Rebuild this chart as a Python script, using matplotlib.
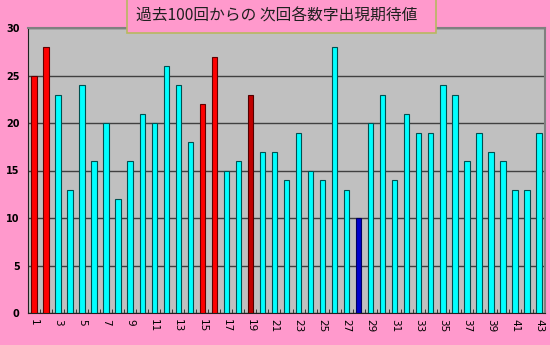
import numpy as np
import matplotlib.pyplot as plt
from matplotlib.patches import Rectangle

plt.rcParams['font.family'] = ['Noto Sans CJK JP', 'DejaVu Sans']

numbers = list(range(1, 44))
values = [25, 28, 23, 13, 24, 16, 20, 12, 16, 21,
          20, 26, 24, 18, 22, 27, 15, 16, 23, 17,
          17, 14, 19, 15, 14, 28, 13, 10, 20, 23,
          14, 21, 19, 19, 24, 23, 16, 19, 17, 16,
          13, 13, 19]
hot = [1, 2, 15, 16]
warm = [19]
cold = [28]
title = '過去100回からの 次回各数字出現期待値'

face = []
edge = []
for n in numbers:
    if n in hot:
        face.append('#ff0000'); edge.append('#600000')
    elif n in warm:
        face.append('#c00000'); edge.append('#500000')
    elif n in cold:
        face.append('#0000cc'); edge.append('#000060')
    else:
        face.append('#00ffff'); edge.append('#005050')

W, H = 550, 345
fig = plt.figure(figsize=(5.5, 3.45), dpi=100, facecolor='#ff99cc')
ax = fig.add_axes([28 / W, 32 / H, 517 / W, 285 / H])
ax.set_facecolor('#c0c0c0')

ax.bar(numbers, values, width=0.45, color=face, edgecolor=edge, linewidth=0.8, zorder=3)

ax.set_xlim(0.5, 43.5)
ax.set_ylim(0, 30)
ax.set_yticks(range(0, 31, 5))
ax.yaxis.grid(True, color='#404040', linewidth=1.0, zorder=1)
ax.set_axisbelow(True)

ax.set_xticks(numbers[::2])
ax.set_xticklabels([str(n) for n in numbers[::2]], rotation=-90, fontsize=7.5,
                   family='DejaVu Sans')
ax.tick_params(axis='x', length=0, pad=4)
ax.set_xticks(np.arange(1.5, 43.5, 1), minor=True)
ax.tick_params(axis='x', which='minor', direction='in', length=3, color='#202020')
ax.tick_params(axis='y', length=0, labelsize=7, pad=6)
for lab in ax.get_yticklabels():
    lab.set_family('DejaVu Sans')
    lab.set_fontweight('bold')

for side in ['top', 'right']:
    ax.spines[side].set_color('#808080')
    ax.spines[side].set_linewidth(1.5)
ax.spines['left'].set_color('#202020')
ax.spines['bottom'].set_color('#202020')

# title box, its top runs off the figure edge
fig.patches.append(Rectangle((127 / W, (H - 33) / H), 309 / W, 40 / H,
                             transform=fig.transFigure, facecolor='#ff99cc',
                             edgecolor='#b8b860', linewidth=1.2, zorder=5))
fig.text(277 / W, 1 - 16 / H, title, ha='center', va='center', fontsize=11.3,
         color='#202020', zorder=6)

fig.savefig('out.png', dpi=100, facecolor=fig.get_facecolor())
